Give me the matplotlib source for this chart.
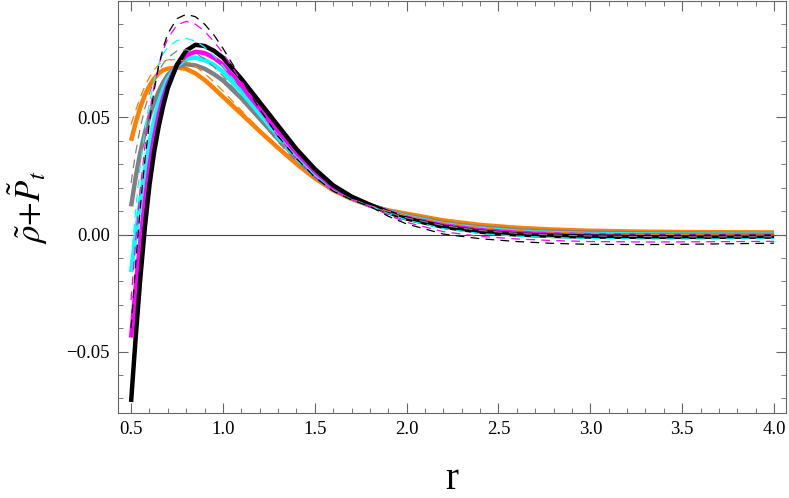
import matplotlib
matplotlib.use("Agg")
import matplotlib.pyplot as plt
from matplotlib.ticker import MultipleLocator, FuncFormatter

r = [0.5, 0.525, 0.55, 0.575, 0.6, 0.625, 0.65, 0.675, 0.7, 0.75, 0.8, 0.85, 0.9, 0.95,
     1.0, 1.1, 1.2, 1.3, 1.4, 1.5, 1.6, 1.7, 1.8, 1.9, 2.0, 2.2, 2.4, 2.6, 2.8, 3.0,
     3.3, 3.6, 4.0]

# solid curves
orange_solid = [0.040, 0.0477, 0.0543, 0.0595, 0.0635, 0.0665, 0.0688, 0.0702, 0.0708,
                0.0713, 0.0707, 0.0688, 0.0660, 0.0625, 0.0588, 0.0515, 0.0441, 0.0370,
                0.0302, 0.0240, 0.0189, 0.0152, 0.0123, 0.0103, 0.0089, 0.0060, 0.0041,
                0.0029, 0.0021, 0.0016, 0.0012, 0.0010, 0.0009]
gray_solid = [0.012, 0.0245, 0.0350, 0.0435, 0.0505, 0.0562, 0.0610, 0.0650, 0.0682,
              0.0716, 0.0727, 0.0722, 0.0708, 0.0685, 0.0658, 0.0582, 0.0495, 0.0408,
              0.0327, 0.0256, 0.0196, 0.0155, 0.0124, 0.0101, 0.0080, 0.0050, 0.0031,
              0.0019, 0.0012, 0.0008, 0.0005, 0.0003, 0.0002]
cyan_solid = [-0.016, -0.0003, 0.0142, 0.0275, 0.0392, 0.0487, 0.0562, 0.0620, 0.0665,
              0.0722, 0.0750, 0.0755, 0.0745, 0.0725, 0.0695, 0.0610, 0.0515, 0.0423,
              0.0337, 0.0262, 0.0199, 0.0157, 0.0125, 0.0099, 0.0076, 0.0044, 0.0025,
              0.0013, 0.0006, 0.0002, 0.0, -0.0001, -0.0001]
magenta_solid = [-0.044, -0.0225, -0.003, 0.0145, 0.0295, 0.0415, 0.0510, 0.0585, 0.0643,
                 0.0725, 0.0765, 0.0780, 0.0775, 0.0755, 0.0725, 0.0635, 0.0538, 0.0443,
                 0.0350, 0.0270, 0.0203, 0.0159, 0.0126, 0.0097, 0.0072, 0.0039, 0.0019,
                 0.0008, 0.0001, -0.0002, -0.0004, -0.0005, -0.0005]
black_solid = [-0.0715, -0.044, -0.019, 0.003, 0.021, 0.035, 0.046, 0.055, 0.0625,
               0.0725, 0.0785, 0.0810, 0.0805, 0.0785, 0.0755, 0.0665, 0.0565, 0.0465,
               0.0365, 0.0280, 0.0210, 0.0162, 0.0127, 0.0095, 0.0068, 0.0033, 0.0012,
               0.0, -0.0006, -0.0009, -0.0010, -0.0010, -0.0009]

# dashed curves
orange_dash = [0.047, 0.0530, 0.0585, 0.0633, 0.0672, 0.0703, 0.0725, 0.0739, 0.0746,
               0.0747, 0.0738, 0.0718, 0.0688, 0.0652, 0.0613, 0.0530, 0.0448, 0.0370,
               0.0298, 0.0236, 0.0186, 0.0151, 0.0123, 0.0099, 0.0080, 0.0050, 0.0030,
               0.0018, 0.0010, 0.0005, 0.0001, -0.0001, -0.0002]
gray_dash = [0.022, 0.0350, 0.0455, 0.0538, 0.0604, 0.0656, 0.0697, 0.0730, 0.0755,
             0.0784, 0.0789, 0.0775, 0.0750, 0.0716, 0.0677, 0.0588, 0.0490, 0.0395,
             0.0312, 0.0241, 0.0186, 0.0150, 0.0122, 0.0094, 0.0071, 0.0038, 0.0017,
             0.0005, -0.0002, -0.0006, -0.0009, -0.0010, -0.0010]
cyan_dash = [-0.012, 0.0105, 0.0295, 0.0445, 0.0563, 0.0655, 0.0725, 0.0772, 0.0800,
             0.0828, 0.0837, 0.0826, 0.0800, 0.0764, 0.0720, 0.0618, 0.0508, 0.0405,
             0.0318, 0.0243, 0.0186, 0.0150, 0.0122, 0.0089, 0.0062, 0.0025, 0.0004,
             -0.0007, -0.0013, -0.0017, -0.0019, -0.0019, -0.0018]
magenta_dash = [-0.028, -0.0025, 0.0195, 0.0375, 0.0520, 0.0633, 0.0720, 0.0787, 0.0837,
                0.0895, 0.0910, 0.0898, 0.0868, 0.0825, 0.0775, 0.0655, 0.0530, 0.0418,
                0.0324, 0.0245, 0.0186, 0.0149, 0.0121, 0.0083, 0.0052, 0.0012, -0.0008,
                -0.0019, -0.0026, -0.0030, -0.0032, -0.0031, -0.0029]
black_dash = [-0.040, -0.0125, 0.0115, 0.0315, 0.0480, 0.0613, 0.0718, 0.0798, 0.0858,
              0.0922, 0.0940, 0.0930, 0.0898, 0.0853, 0.0795, 0.0665, 0.0535, 0.0420,
              0.0325, 0.0245, 0.0185, 0.0148, 0.0120, 0.0078, 0.0045, 0.0002, -0.0018,
              -0.0030, -0.0038, -0.0042, -0.0043, -0.0041, -0.0037]

colors = ["#FF8000", "#808080", "#00FFFF", "#FF00FF", "#000000"]
solids = [orange_solid, gray_solid, cyan_solid, magenta_solid, black_solid]
dashes = [orange_dash, gray_dash, cyan_dash, magenta_dash, black_dash]

plt.rcParams["mathtext.fontset"] = "stix"

fig = plt.figure(figsize=(7.89, 4.98), dpi=100)
ax = fig.add_axes([0.1496, 0.1707, 0.8466, 0.8273])

ax.axhline(0, color="#444444", lw=0.8, zorder=1)

for c, ys in zip(colors, solids):
    ax.plot(r, ys, color=c, lw=3.2, solid_capstyle="butt", solid_joinstyle="round", zorder=2)
for c, ys in zip(colors, dashes):
    ax.plot(r, ys, color=c, lw=0.9, ls=(0, (7, 5)), zorder=3)

ax.set_xlim(0.429, 4.065)
ax.set_ylim(-0.0762, 0.0997)

ax.xaxis.set_major_locator(MultipleLocator(0.5))
ax.xaxis.set_minor_locator(MultipleLocator(0.1))
ax.yaxis.set_major_locator(MultipleLocator(0.05))
ax.yaxis.set_minor_locator(MultipleLocator(0.01))
ax.xaxis.set_major_formatter(FuncFormatter(lambda v, p: f"{v:.1f}"))
ax.yaxis.set_major_formatter(FuncFormatter(lambda v, p: f"{v:.2f}".replace("-", "\u2212")))

ax.tick_params(which="both", direction="in", top=True, right=True, color="#666666",
               labelsize=13.5, pad=6)
ax.tick_params(which="major", length=7, width=0.8)
ax.tick_params(which="minor", length=3.5, width=0.6)
for lab in ax.get_xticklabels() + ax.get_yticklabels():
    lab.set_fontfamily("Liberation Serif")
for s in ax.spines.values():
    s.set_color("#666666")
    s.set_linewidth(0.8)

ax.set_xlabel("r", fontfamily="Liberation Serif", fontsize=28, labelpad=16)
ax.set_ylabel(r"$\tilde{\rho}{+}\tilde{P}_t$", fontsize=25, labelpad=12)

fig.savefig("out.png", dpi=100)
